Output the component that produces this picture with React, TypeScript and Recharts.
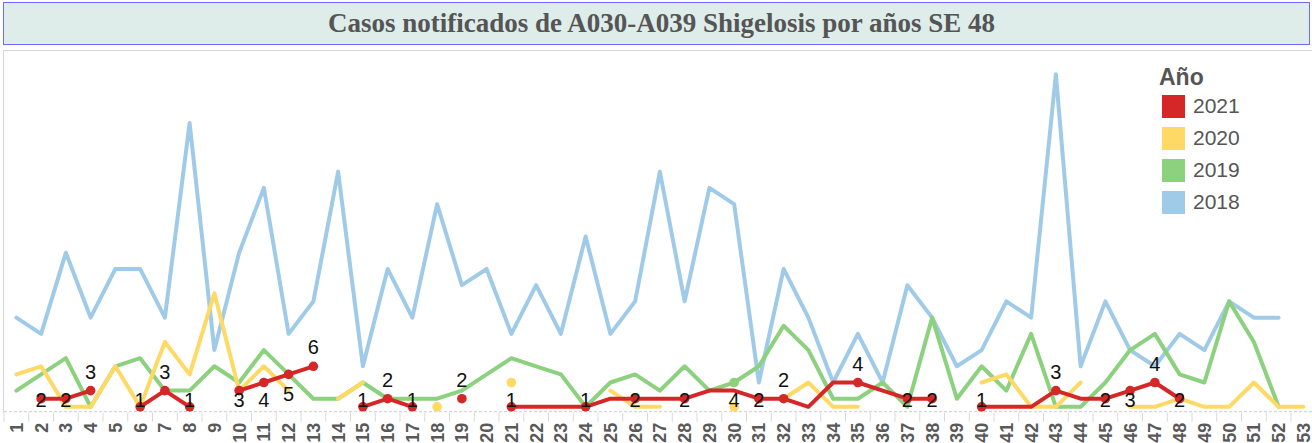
import { LineChart, Line, XAxis, YAxis } from "recharts";

const WEEKS = [
  "1", "2", "3", "4", "5", "6", "7", "8", "9", "10", "11", "12", "13", "14",
  "15", "16", "17", "18", "19", "20", "21", "22", "23", "24", "25", "26", "27",
  "28", "29", "30", "31", "32", "33", "34", "35", "36", "37", "38", "39", "40",
  "41", "42", "43", "44", "45", "46", "47", "48", "49", "50", "51", "52", "53",
];

const Y2021 = [
  null, 2, 2, 3, null, 1, 3, 1, null, 3, 4, 5, 6, null, 1, 2, 1, null, 2, null,
  1, 1, 1, 1, 2, 2, 2, 2, 3, 3, 2, 2, 1, 4, 4, 3, 2, 2, null, 1, 1, 1, 3, 2, 2,
  3, 4, 2, null, null, null, null, null,
];

const Y2020 = [
  5, 6, 1, 1, 6, 1, 9, 5, 15, 3, 6, 3, null, 2, 4, null, null, 1, null, null,
  4, null, null, null, 3, 1, 1, null, null, 1, null, 2, 4, 1, 1, null, null,
  null, null, 4, 5, 1, 1, 4, null, 1, 1, 2, 1, 1, 4, 1, 1,
];

const Y2019 = [
  3, 5, 7, 1, 6, 7, 3, 3, 6, 4, 8, 5, 2, 2, 4, 2, 2, 2, 3, 5, 7, 6, 5, 1, 4, 5,
  3, 6, 3, 4, 6, 11, 8, 2, 2, 4, 1, 12, 2, 6, 3, 10, 1, 1, 4, 8, 10, 5, 4, 14,
  9, 1, null,
];

const Y2018 = [
  12, 10, 20, 12, 18, 18, 12, 36, 8, 20, 28, 10, 14, 30, 6, 18, 12, 26, 16, 18,
  10, 16, 10, 22, 10, 14, 30, 14, 28, 26, 4, 18, 12, 4, 10, 4, 16, 12, 6, 8, 14,
  12, 42, 6, 14, 8, 6, 10, 8, 14, 12, 12, null,
];

// weeks whose point carries a marker + value label
const LABELED_2021 = [
  2, 3, 4, 6, 7, 8, 10, 11, 12, 13, 15, 16, 17, 19, 21, 24, 26, 28, 31, 32, 35,
  37, 38, 40, 43, 45, 46, 47, 48,
];
const ABOVE_2021 = [4, 7, 13, 16, 19, 32, 35, 43, 47];
const LABELED_2019 = [30];

const SERIES = [
  { key: "y2018", name: "2018", color: "#a0cbe8", values: Y2018, labeled: [] as number[] },
  { key: "y2019", name: "2019", color: "#8cd17d", values: Y2019, labeled: LABELED_2019 },
  { key: "y2020", name: "2020", color: "#ffd966", values: Y2020, labeled: [] as number[] },
  { key: "y2021", name: "2021", color: "#d62728", values: Y2021, labeled: LABELED_2021 },
];

const data = WEEKS.map((week, i) => ({
  week,
  y2021: Y2021[i],
  y2020: Y2020[i],
  y2019: Y2019[i],
  y2018: Y2018[i],
}));

const CHART_W = 1320;
const CHART_H = 443;
const MARGIN = { top: 50, right: 4.25, bottom: 0, left: 4 };
const AXIS_H = 31.3;
const PLOT_BOTTOM = CHART_H - AXIS_H;
const STEP = (CHART_W - MARGIN.left - MARGIN.right) / WEEKS.length;
const SANS = "'Liberation Sans', Arial, sans-serif";

function WeekTick({ x, y, payload }: { x?: number; y?: number; payload?: { value: string } }) {
  if (x == null || y == null || !payload) return null;
  return (
    <g>
      <line x1={x - STEP / 2} x2={x - STEP / 2} y1={y + 1} y2={y + 10} stroke="#d9d9d9" />
      <text
        transform={`translate(${x},${y + 11}) rotate(-90)`}
        textAnchor="end"
        dy="0.36em"
        fontSize={18}
        fontWeight="bold"
        fill="#595959"
        fontFamily={SANS}
      >
        {payload.value}
      </text>
    </g>
  );
}

function makeDot(values: (number | null)[], labeled: number[], color: string) {
  return (props: any) => {
    const { cx, cy, index } = props;
    const v = values[index];
    const isolated = v != null && values[index - 1] == null && values[index + 1] == null;
    if (v == null || cx == null || (!isolated && !labeled.includes(index + 1))) {
      return <g key={`dot-${index}`} />;
    }
    return <circle key={`dot-${index}`} cx={cx} cy={cy} r={4.8} fill={color} />;
  };
}

function makeLabel(values: (number | null)[], labeled: number[], above: number[]) {
  return (props: any) => {
    const { x, y, index } = props;
    const v = values[index];
    if (v == null || x == null || !labeled.includes(index + 1)) return <g key={`lbl-${index}`} />;
    const ly = above.includes(index + 1) ? y - 19 : Math.min(y + 19, PLOT_BOTTOM - 11.5);
    return (
      <text
        key={`lbl-${index}`}
        x={x}
        y={ly}
        dy="0.36em"
        textAnchor="middle"
        fontSize={20}
        fill="#111"
        fontFamily={SANS}
      >
        {v}
      </text>
    );
  };
}

function YearLegend() {
  const rows = [...SERIES].reverse();
  return (
    <div style={{ position: "absolute", left: 1159, top: 64, fontFamily: SANS, color: "#555" }}>
      <div style={{ fontSize: 23, fontWeight: "bold", lineHeight: "26px" }}>Año</div>
      {rows.map((s) => (
        <div key={s.key} style={{ display: "flex", alignItems: "center", height: 32 }}>
          <span
            style={{ display: "inline-block", width: 23, height: 23, background: s.color, marginLeft: 3 }}
          />
          <span style={{ fontSize: 21, marginLeft: 8 }}>{s.name}</span>
        </div>
      ))}
    </div>
  );
}

export default function App() {
  return (
    <div
      style={{
        position: "absolute",
        left: 0,
        top: 0,
        width: 1312,
        height: CHART_H,
        overflow: "hidden",
        background: "#fff",
      }}
    >
      <div
        style={{
          position: "absolute",
          left: 3,
          top: 2,
          width: 1307,
          height: 43,
          boxSizing: "border-box",
          border: "1.7px solid #6b6bff",
          background: "#deecea",
          display: "flex",
          alignItems: "center",
          justifyContent: "center",
          paddingLeft: 10,
          fontFamily: "'Liberation Serif', 'Times New Roman', serif",
          fontWeight: "bold",
          fontSize: 27,
          color: "#555",
        }}
      >
        Casos notificados de A030-A039 Shigelosis por años SE 48
      </div>
      <div
        style={{
          position: "absolute",
          left: 3,
          top: 50,
          width: 1320,
          height: PLOT_BOTTOM - 50,
          borderTop: "1px solid #d6d6d6",
          borderLeft: "1px solid #d6d6d6",
        }}
      />
      <div style={{ position: "absolute", left: 0, top: 0 }}>
        <LineChart width={CHART_W} height={CHART_H} data={data} margin={MARGIN}>
          <XAxis
            dataKey="week"
            interval={0}
            height={AXIS_H}
            padding={{ left: STEP / 2, right: STEP / 2 }}
            tickSize={0}
            tickMargin={0}
            tickLine={false}
            axisLine={{ stroke: "#cccccc", strokeDasharray: "3 2" }}
            tick={<WeekTick />}
          />
          <YAxis hide domain={[0.4, 45]} allowDataOverflow />
          {SERIES.map((s) => (
            <Line
              key={s.key}
              type="linear"
              dataKey={s.key}
              name={s.name}
              stroke={s.color}
              strokeWidth={4}
              strokeLinecap="round"
              strokeLinejoin="round"
              dot={makeDot(s.values, s.labeled, s.color)}
              activeDot={false}
              label={s.labeled.length ? makeLabel(s.values, s.labeled, s.key === "y2021" ? ABOVE_2021 : []) : false}
              isAnimationActive={false}
            />
          ))}
        </LineChart>
      </div>
      <YearLegend />
    </div>
  );
}
